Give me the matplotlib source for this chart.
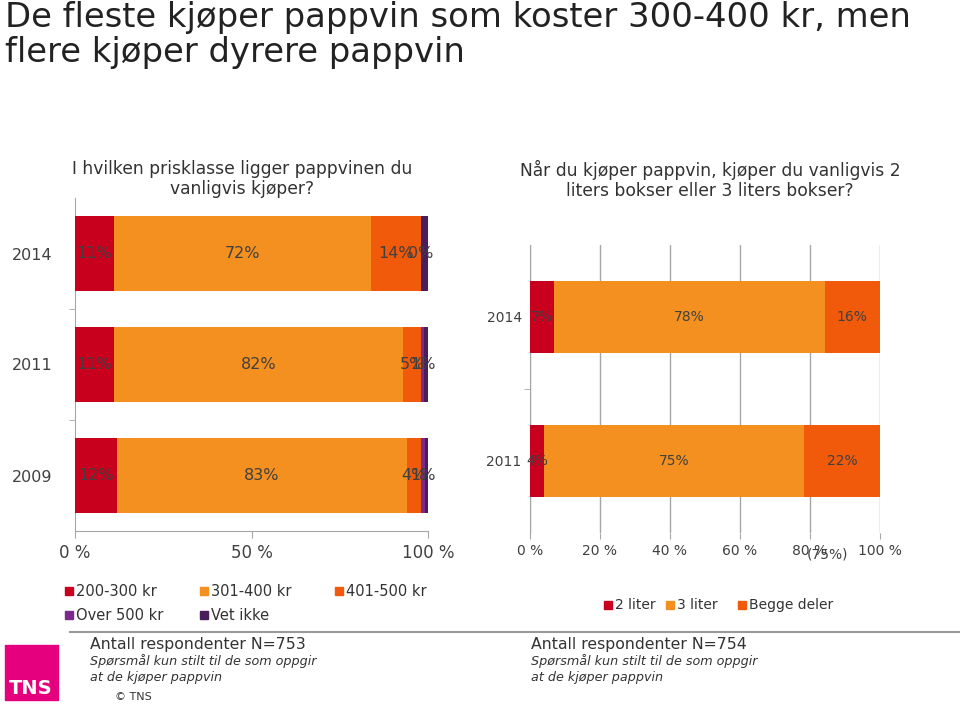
import matplotlib.pyplot as plt
import numpy as np

# venstre figur: prisklasse
years_l = ["2014", "2011", "2009"]
price_cats = ["200-300 kr", "301-400 kr", "401-500 kr", "Over 500 kr", "Vet ikke"]
price_vals = [
    [11, 72, 14, 0, 2],
    [11, 82, 5, 1, 1],
    [12, 83, 4, 1, 1],
]
price_cols = ["#C8001E", "#F39020", "#F05A0A", "#7B2A8C", "#4A1E5A"]

# høyre figur: størrelse
years_r = ["2014", "2011"]
size_cats = ["2 liter", "3 liter", "Begge deler"]
size_vals = [
    [7, 78, 16],
    [4, 75, 22],
]
size_cols = ["#C8001E", "#F39020", "#F05A0A"]

W, H = 960, 705
fig = plt.figure(figsize=(9.6, 7.05), dpi=100)
txt = "#404040"
grey = "#A6A6A6"

def fx(px):
    return px / W
def fy(py):
    return 1 - py / H

fig.text(fx(5), fy(1), "De fleste kjøper pappvin som koster 300-400 kr, men\nflere kjøper dyrere pappvin",
         fontsize=24.4, va="top", ha="left", color="#222222", linespacing=1.06)
fig.text(fx(242), fy(160), "I hvilken prisklasse ligger pappvinen du\nvanligvis kjøper?",
         fontsize=12.3, ha="center", va="top", color="#333333", linespacing=1.15)
fig.text(fx(710), fy(160), "Når du kjøper pappvin, kjøper du vanligvis 2\nliters bokser eller 3 liters bokser?",
         fontsize=12.3, ha="center", va="top", color="#333333", linespacing=1.15)


def stacked(ax, years, vals, cols, bar_h, fs, label_n):
    vals = np.array(vals, dtype=float)
    pct = vals / vals.sum(axis=1, keepdims=True) * 100
    ypos = np.arange(len(years))[::-1]
    left = np.zeros(len(years))
    for k in range(vals.shape[1]):
        ax.barh(ypos, pct[:, k], left=left, height=bar_h, color=cols[k], zorder=3)
        if k < label_n:
            for i in range(len(years)):
                ax.text(left[i] + pct[i, k] / 2, ypos[i], "%d%%" % vals[i, k],
                        ha="center", va="center", fontsize=fs, color=txt, zorder=4)
        left += pct[:, k]
    ax.set_xlim(0, 100)
    ax.set_ylim(-0.5, len(years) - 0.5)
    ax.set_yticks(ypos)
    ax.set_yticklabels(years)
    ax.set_yticks(np.arange(len(years) - 1) + 0.5, minor=True)
    ax.tick_params(axis="y", which="major", length=0, colors=txt, labelsize=fs)
    ax.tick_params(axis="y", which="minor", length=4, color=grey)
    for s in ["top", "right"]:
        ax.spines[s].set_visible(False)
    ax.spines["left"].set_color(grey)
    ax.spines["bottom"].set_color(grey)


# venstre
axl = fig.add_axes([fx(75), fy(531), fx(353), (531 - 198) / H])
stacked(axl, years_l, price_vals, price_cols, 0.667, 11.5, 4)
axl.set_xticks([0, 50, 100])
axl.set_xticklabels(["0 %", "50 %", "100 %"])
axl.tick_params(axis="x", length=5, color=grey, colors=txt, labelsize=12, pad=4)
axl.tick_params(axis="y", which="major", pad=16)

# høyre
axr = fig.add_axes([fx(530), fy(533), fx(350), (533 - 245) / H])
stacked(axr, years_r, size_vals, size_cols, 0.5, 10, 3)
axr.set_xticks([0, 20, 40, 60, 80, 100])
axr.set_xticklabels(["0 %", "20 %", "40 %", "60 %", "80 %", "100 %"])
axr.grid(axis="x", color=grey, linewidth=1, zorder=0)
axr.tick_params(axis="x", length=4, color=grey, colors=txt, labelsize=10, pad=4)
axr.tick_params(axis="y", which="major", labelsize=10, pad=6)
axr.spines["bottom"].set_visible(False)
fig.text(fx(827), fy(554), "(75%)", ha="center", va="center", fontsize=10, color=txt)

# tegnforklaring venstre
leg_pos = [(65, 591), (200, 591), (335, 591), (65, 615), (200, 615)]
for (px, py), lab, c in zip(leg_pos, price_cats, price_cols):
    fig.patches.append(plt.Rectangle((fx(px), fy(py + 4)), fx(8), 8 / H,
                                     transform=fig.transFigure, color=c))
    fig.text(fx(px + 11), fy(py), lab, fontsize=10.5, va="center", color="#333333")

# tegnforklaring høyre
for px, lab, c in zip([604, 666, 738], size_cats, size_cols):
    fig.patches.append(plt.Rectangle((fx(px), fy(609)), fx(8), 8 / H,
                                     transform=fig.transFigure, color=c))
    fig.text(fx(px + 11), fy(605), lab, fontsize=10, va="center", color="#333333")

# bunntekst
fig.add_artist(plt.Line2D([fx(70), 1], [fy(632), fy(632)], color="#999999", lw=1.5))
fig.patches.append(plt.Rectangle((fx(5), fy(700)), fx(53), 55 / H,
                                 transform=fig.transFigure, color="#E5007D"))
fig.text(fx(31), fy(698), "TNS", color="white", fontsize=14, fontweight="bold",
         ha="center", va="bottom")
fig.text(fx(115), fy(697), "© TNS", fontsize=8, color="#333333", va="center")
for x0, n in [(90, "753"), (531, "754")]:
    fig.text(fx(x0), fy(644), "Antall respondenter N=" + n, fontsize=11.3, va="center", color="#333333")
    fig.text(fx(x0), fy(661), "Spørsmål kun stilt til de som oppgir", fontsize=9.2,
             style="italic", va="center", color="#333333")
    fig.text(fx(x0), fy(677), "at de kjøper pappvin", fontsize=9.2,
             style="italic", va="center", color="#333333")

fig.savefig("out.png", dpi=100)
